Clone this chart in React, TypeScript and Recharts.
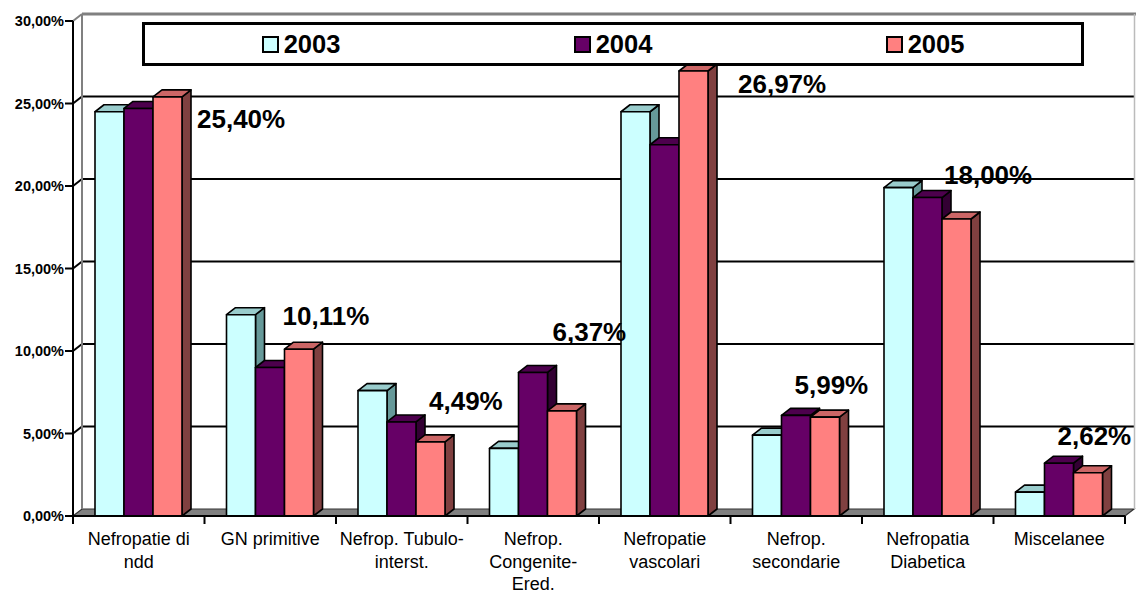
// Bar chart of nephropathy causes 2003-2005, 3D-looking Excel style bars drawn with Recharts

import React from 'react';
import { BarChart, Bar, XAxis, YAxis, CartesianGrid, Legend, LabelList } from 'recharts';

const categories = [
  'Nefropatie di ndd',
  'GN primitive',
  'Nefrop. Tubulo-interst.',
  'Nefrop. Congenite-Ered.',
  'Nefropatie vascolari',
  'Nefrop. secondarie',
  'Nefropatia Diabetica',
  'Miscelanee',
];

// how each category label wraps under the axis
const tickLines = [
  ['Nefropatie di', 'ndd'],
  ['GN primitive'],
  ['Nefrop. Tubulo-', 'interst.'],
  ['Nefrop.', 'Congenite-', 'Ered.'],
  ['Nefropatie', 'vascolari'],
  ['Nefrop.', 'secondarie'],
  ['Nefropatia', 'Diabetica'],
  ['Miscelanee'],
];

const years = ['2003', '2004', '2005'];
const values2003 = [24.5, 12.2, 7.6, 4.1, 24.5, 4.9, 19.9, 1.45];
const values2004 = [24.7, 9.0, 5.7, 8.7, 22.5, 6.1, 19.3, 3.2];
const values2005 = [25.4, 10.11, 4.49, 6.37, 26.97, 5.99, 18.0, 2.62];
const yTicks = [0, 5, 10, 15, 20, 25, 30];

// hand placement of the 2005 value labels, relative to the bar's front top-left corner
const labelDx = [44, -2, 13, 5, 59, -16, 2, -16];
const labelDy = [31, -24, -32, -70, 22, -23, -35, -28];

const W = 1136;
const H = 595;
const X_AXIS_H = 30;
const MARGIN = { top: 21, right: 11, bottom: 49, left: 0 };
const Y_AXIS_W = 73;
const PLOT_BOTTOM = H - MARGIN.bottom - X_AXIS_H;
const PLOT_TOP = MARGIN.top;
const DEPTH_X = 9;
const DEPTH_Y = 7;
const FONT = '"Liberation Sans", Arial, sans-serif';

const COLORS = {
  '2003': { front: '#CCFFFF', top: '#99CCCC', side: '#669999' },
  '2004': { front: '#660066', top: '#4D004D', side: '#330033' },
  '2005': { front: '#FF8080', top: '#CC6666', side: '#804040' },
};

const rows = categories.map((name, i) => ({
  name,
  y2003: values2003[i],
  y2004: values2004[i],
  y2005: values2005[i],
}));

const fmtPct = (v: number) => `${v.toFixed(2).replace('.', ',')}%`;

function make3DBar(c: { front: string; top: string; side: string }) {
  return (props: any) => {
    const { x, y, width: w, height: h } = props;
    if (!h || h <= 0) return <g />;
    const side = `${x + w},${y} ${x + w + DEPTH_X},${y - DEPTH_Y} ${x + w + DEPTH_X},${y + h - DEPTH_Y} ${x + w},${y + h}`;
    const top = `${x},${y} ${x + DEPTH_X},${y - DEPTH_Y} ${x + w + DEPTH_X},${y - DEPTH_Y} ${x + w},${y}`;
    return (
      <g stroke="#000" strokeWidth={1.6} strokeLinejoin="round">
        <polygon points={side} fill={c.side} />
        <polygon points={top} fill={c.top} />
        <rect x={x} y={y} width={w} height={h} fill={c.front} />
      </g>
    );
  };
}

// back wall gridlines, left wall diagonals and the floor
const renderGridLine = (props: any) => {
  const { x1, x2, y1, key } = props;
  const y = y1;
  const isBottom = Math.abs(y - PLOT_BOTTOM) < 1;
  const isTop = Math.abs(y - PLOT_TOP) < 1;
  if (isBottom) {
    return (
      <g key={key}>
        <polygon
          points={`${x1},${y} ${x2},${y} ${x2 + DEPTH_X},${y - DEPTH_Y} ${x1 + DEPTH_X},${y - DEPTH_Y}`}
          fill="#808080"
          stroke="#333"
          strokeWidth={1.2}
        />
      </g>
    );
  }
  if (isTop) {
    return (
      <g key={key}>
        <line x1={x1} y1={y} x2={x1 + DEPTH_X} y2={y - DEPTH_Y} stroke="#808080" strokeWidth={2} />
        <line x1={x1 + DEPTH_X} y1={y - DEPTH_Y} x2={W} y2={y - DEPTH_Y} stroke="#808080" strokeWidth={3} />
        <line x1={x1 + DEPTH_X} y1={y - DEPTH_Y} x2={x1 + DEPTH_X} y2={PLOT_BOTTOM - DEPTH_Y} stroke="#808080" strokeWidth={2} />
        <line x1={W - 1.5} y1={y - DEPTH_Y} x2={W - 1.5} y2={PLOT_BOTTOM - DEPTH_Y} stroke="#BBBBBB" strokeWidth={1.5} />
      </g>
    );
  }
  return (
    <g key={key}>
      <line x1={x1} y1={y} x2={x1 + DEPTH_X} y2={y - DEPTH_Y} stroke="#000" strokeWidth={2} />
      <line x1={x1 + DEPTH_X} y1={y - DEPTH_Y} x2={x2 + DEPTH_X} y2={y - DEPTH_Y} stroke="#000" strokeWidth={2} />
    </g>
  );
};

const CategoryTick = (props: any) => {
  const { x, y, payload, index } = props;
  const half = payload && payload.offset ? payload.offset : (W - MARGIN.right - Y_AXIS_W) / categories.length / 2;
  const lines = tickLines[index] || [payload.value];
  return (
    <g>
      <line x1={x - half} y1={y} x2={x - half} y2={y + 8} stroke="#000" strokeWidth={2} />
      {index === categories.length - 1 && (
        <line x1={x + half} y1={y} x2={x + half} y2={y + 8} stroke="#000" strokeWidth={2} />
      )}
      {lines.map((ln: string, i: number) => (
        <text
          key={i}
          x={x}
          y={y + 29 + i * 22.5}
          textAnchor="middle"
          fontFamily={FONT}
          fontSize={18}
          fill="#000"
        >
          {ln}
        </text>
      ))}
    </g>
  );
};

const PercentTick = (props: any) => {
  const { x, y, payload } = props;
  return (
    <g>
      <line x1={x - 8} y1={y} x2={x} y2={y} stroke="#000" strokeWidth={2} />
      <text
        x={x - 9}
        y={y + 5}
        textAnchor="end"
        fontFamily={FONT}
        fontSize={14.5}
        fontWeight="bold"
        fill="#000"
      >
        {fmtPct(payload.value)}
      </text>
    </g>
  );
};

const ValueLabel = (props: any) => {
  const { x, y, value, index } = props;
  return (
    <text
      x={x + labelDx[index]}
      y={y + labelDy[index]}
      fontFamily={FONT}
      fontSize={26}
      fontWeight="bold"
      fill="#000"
    >
      {fmtPct(value)}
    </text>
  );
};

const LegendBox = () => (
  <div
    style={{
      boxSizing: 'border-box',
      width: 942,
      height: 44,
      border: '3px solid #000',
      background: '#fff',
      display: 'flex',
      alignItems: 'center',
    }}
  >
    {years.map((yr) => (
      <div key={yr} style={{ flex: 1, display: 'flex', justifyContent: 'center', alignItems: 'center' }}>
        <span
          style={{
            display: 'inline-block',
            boxSizing: 'border-box',
            width: 17,
            height: 17,
            border: '2px solid #000',
            background: COLORS[yr as keyof typeof COLORS].front,
            marginRight: 5,
          }}
        />
        <span style={{ fontFamily: FONT, fontWeight: 'bold', fontSize: 25.5, lineHeight: '26px' }}>{yr}</span>
      </div>
    ))}
  </div>
);

export default function App() {
  return (
    <div style={{ position: 'absolute', left: 0, top: 0, width: W, height: H, background: '#fff' }}>
      <BarChart width={W} height={H} data={rows} margin={MARGIN} barGap={0} barSize={29}>
        <CartesianGrid vertical={false} horizontal={renderGridLine} />
        <XAxis
          dataKey="name"
          height={X_AXIS_H}
          interval={0}
          tickLine={false}
          tickSize={0}
          tickMargin={0}
          axisLine={{ stroke: '#000', strokeWidth: 2 }}
          tick={<CategoryTick />}
        />
        <YAxis
          width={Y_AXIS_W}
          domain={[0, 30]}
          ticks={yTicks}
          interval={0}
          tickLine={false}
          tickSize={0}
          tickMargin={0}
          axisLine={{ stroke: '#000', strokeWidth: 2 }}
          tick={<PercentTick />}
        />
        <Legend
          layout="horizontal"
          verticalAlign="middle"
          align="center"
          content={<LegendBox />}
          wrapperStyle={{ left: 142, top: 22, width: 942, height: 44 }}
        />
        <Bar dataKey="y2003" name="2003" isAnimationActive={false} shape={make3DBar(COLORS['2003'])} />
        <Bar dataKey="y2004" name="2004" isAnimationActive={false} shape={make3DBar(COLORS['2004'])} />
        <Bar dataKey="y2005" name="2005" isAnimationActive={false} shape={make3DBar(COLORS['2005'])}>
          <LabelList dataKey="y2005" content={<ValueLabel />} />
        </Bar>
      </BarChart>
    </div>
  );
}
